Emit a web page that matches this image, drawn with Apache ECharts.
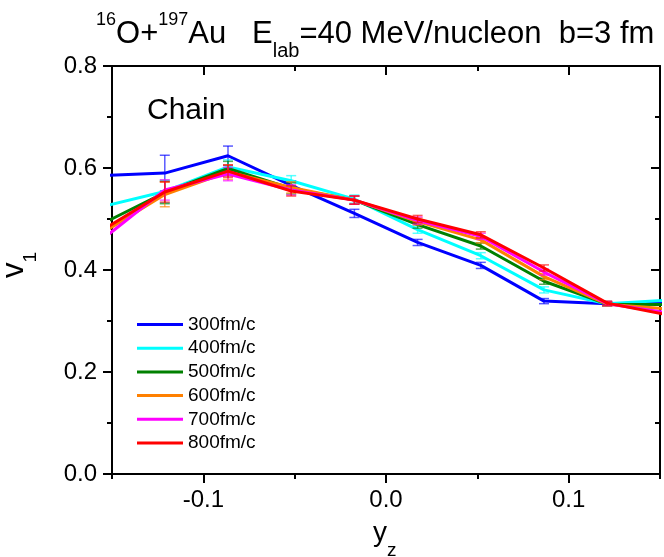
<!DOCTYPE html>
<html><head><meta charset="utf-8">
<script src="https://cdn.jsdelivr.net/npm/echarts@6/dist/echarts.min.js"></script>
<style>html,body{margin:0;padding:0;background:#fff}#c{width:664px;height:557px}</style>
</head><body><div id="c"></div>
<script>
var xs = [-0.1557,-0.1211,-0.0865,-0.0519,-0.0173,0.0173,0.0519,0.0865,0.1211,0.1557];
var names = ['300fm/c','400fm/c','500fm/c','600fm/c','700fm/c','800fm/c'];
var colors = ['#0000FF','#00FFFF','#008000','#FF8000','#FF00FF','#FF0000'];
var v300 = [0.585,0.590,0.624,0.566,0.511,0.454,0.409,0.339,0.334,0.335];
var v400 = [0.524,0.554,0.602,0.575,0.539,0.479,0.428,0.361,0.334,0.341];
var v500 = [0.490,0.552,0.599,0.560,0.537,0.489,0.447,0.378,0.333,0.332];
var v600 = [0.472,0.548,0.592,0.562,0.537,0.495,0.459,0.387,0.333,0.323];
var v700 = [0.459,0.557,0.588,0.557,0.537,0.497,0.466,0.396,0.334,0.315];
var v800 = [0.477,0.553,0.594,0.555,0.537,0.500,0.469,0.404,0.335,0.311];
var e300 = [null,0.035,0.019,0.009,0.008,0.006,0.006,0.005,0.004,null];
var e400 = [null,0.022,0.014,0.010,0.008,0.007,0.006,0.006,0.004,null];
var e500 = [null,0.022,0.014,0.011,0.008,0.007,0.006,0.006,0.004,null];
var e600 = [null,0.024,0.014,0.011,0.008,0.007,0.006,0.006,0.004,null];
var e700 = [null,0.020,0.013,0.010,0.008,0.007,0.006,0.006,0.004,null];
var e800 = [null,0.020,0.012,0.010,0.008,0.007,0.006,0.006,0.004,null];
var xMajor = [-0.1, 0, 0.1];

var vals = [v300,v400,v500,v600,v700,v800];
var errs = [e300,e400,e500,e600,e700,e800];
var FONT = '"Liberation Sans", Arial, sans-serif';

var mctx = document.createElement('canvas').getContext('2d');
function tw(s, size){ mctx.font = size + 'px ' + FONT; return mctx.measureText(s).width; }

// builds a run of text pieces (normal / super / sub) laid out left to right on a baseline
function textRun(x0, y0, pieces, rotate){
  var els = [], pos = 0;
  pieces.forEach(function(p){
    var mid = p.base - 0.3465 * p.size;
    var el;
    if (!rotate) {
      el = {type:'text', x: x0 + pos, y: y0 + mid,
        style:{text:p.t, font: p.size + 'px ' + FONT, fill:'#000', align:'left', verticalAlign:'middle'}};
    } else {
      el = {type:'text', x: x0 + mid, y: y0 - pos, rotation: Math.PI/2,
        style:{text:p.t, font: p.size + 'px ' + FONT, fill:'#000', align:'left', verticalAlign:'middle'}};
    }
    els.push(el);
    pos += tw(p.t, p.size);
  });
  return els;
}

var chart = echarts.init(document.getElementById('c'));
var series = [];
vals.forEach(function(v, i){
  var ed = [];
  xs.forEach(function(x, j){ if (errs[i][j] != null) ed.push([x, v[j], errs[i][j]]); });
  series.push({
    type:'custom', name: names[i]+'_err', xAxisIndex:0, yAxisIndex:0, z: 2+i*2,
    data: ed, silent:true,
    renderItem: function(params, api){
      var x = api.value(0), y = api.value(1), e = api.value(2);
      var p1 = api.coord([x, y+e]), p2 = api.coord([x, y-e]);
      var st = {stroke: colors[i], lineWidth: 1.5, opacity: 0.65};
      return {type:'group', children:[
        {type:'line', shape:{x1:p1[0],y1:p1[1],x2:p2[0],y2:p2[1]}, style:st},
        {type:'line', shape:{x1:p1[0]-5,y1:p1[1],x2:p1[0]+5,y2:p1[1]}, style:st},
        {type:'line', shape:{x1:p2[0]-5,y1:p2[1],x2:p2[0]+5,y2:p2[1]}, style:st}
      ]};
    }
  });
  series.push({
    type:'line', name: names[i], xAxisIndex:0, yAxisIndex:0, z: 3+i*2,
    data: xs.map(function(x, j){ return [x, v[j]]; }),
    symbol:'none', clip:true, color: colors[i],
    lineStyle:{width:3, color: colors[i]}
  });
});

function xAx(pos, showLine, ticks, inside, len, labels){
  return {type:'value', min:-0.15, max:0.15, interval:0.05, position:pos,
    axisLine:{show:showLine, onZero:false, lineStyle:{color:'#000', width:2}},
    axisTick:ticks ? Object.assign({show:true, inside:inside, length:len, lineStyle:{color:'#000', width:2}}, ticks) : {show:false},
    axisLabel: labels || {show:false},
    splitLine:{show:false}};
}
function yAx(pos, showLine, interval, inside, len, labels){
  return {type:'value', min:0, max:0.8, interval:interval, position:pos,
    axisLine:{show:showLine, onZero:false, lineStyle:{color:'#000', width:2}},
    axisTick:{show:true, inside:inside, length:len, lineStyle:{color:'#000', width:2}},
    axisLabel: labels || {show:false},
    splitLine:{show:false}};
}

var titleEls = textRun(96, 45, [
  {t:'16', size:18, base:-18.3},
  {t:'O+', size:31, base:0},
  {t:'197', size:18, base:-18.3},
  {t:'Au   E', size:31, base:0},
  {t:'lab', size:20, base:13.3},
  {t:'=40 MeV/nucleon  b=3 fm', size:31, base:0}
], false);
var yNameEls = textRun(25, 278, [
  {t:'v', size:31, base:0},
  {t:'1', size:19, base:12}
], true);
var xNameEls = textRun(373, 542.5, [
  {t:'y', size:28, base:0},
  {t:'z', size:19, base:14.5}
], false);

var option = {
  backgroundColor:'#fff',
  animation:false,
  grid:{left:112, right:4, top:66, bottom:83},
  legend:{
    data:names, orient:'vertical', left:132, top:310, itemWidth:46, itemHeight:3, itemGap:4.7,
    icon:'rect',
    textStyle:{fontFamily:FONT, fontSize:19, lineHeight:19, color:'#000'},
    selectedMode:false
  },
  xAxis:[
    xAx('bottom', true, {}, false, 5),
    xAx('bottom', false, {customValues:xMajor}, false, 9,
      {show:true, customValues:xMajor, margin:14, fontFamily:FONT, fontSize:24, color:'#000',
       formatter:function(v){ return v.toFixed(1); }}),
    xAx('top', true, {}, true, 5),
    xAx('top', false, {customValues:xMajor}, true, 9)
  ],
  yAxis:[
    yAx('left', true, 0.1, false, 5),
    yAx('left', false, 0.2, false, 9,
      {show:true, margin:15, fontFamily:FONT, fontSize:24, color:'#000',
       formatter:function(v){ return v.toFixed(1); }}),
    yAx('right', true, 0.1, true, 5),
    yAx('right', false, 0.2, true, 9)
  ],
  graphic: titleEls.concat(yNameEls, xNameEls, [
    {type:'text', left:147, top:96, style:{text:'Chain', fill:'#000', font:'30px '+FONT}}
  ]),
  series: series
};
chart.setOption(option);
</script></body></html>
